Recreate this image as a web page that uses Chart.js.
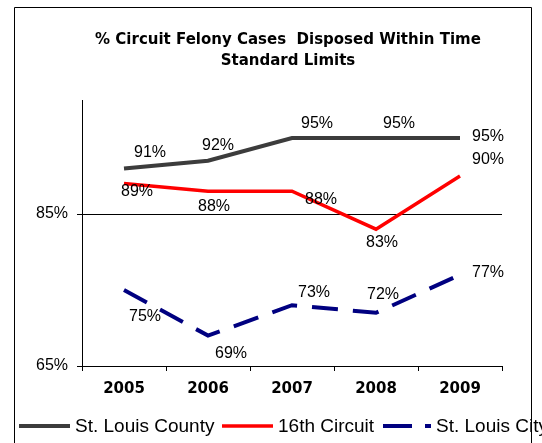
<!DOCTYPE html>
<html lang="en">
<head>
  <meta charset="UTF-8">
  <title>% Circuit Felony Cases Disposed Within Time Standard Limits</title>
  <script src="https://cdn.jsdelivr.net/npm/chart.js"></script>
  <style>
    body {
      margin: 0;
      padding: 0;
      background: #fff;
    }
    .wrap {
      position: relative;
      width: 542px;
      height: 443px;
    }
  </style>
</head>
<body>
  <div class="wrap">
    <canvas id="felonyChart" width="542" height="443"></canvas>
  </div>

  <script>
    // data
    const years = ['2005', '2006', '2007', '2008', '2009'];
    const countyValues = [91, 92, 95, 95, 95];
    const circuitValues = [89, 88, 88, 83, 90];
    const cityValues = [75, 69, 73, 72, 77];
    const yTicks = [65, 85];
    const seriesNames = ['St. Louis County', '16th Circuit', 'St. Louis City'];
    const titleLines = ['% Circuit Felony Cases  Disposed Within Time', 'Standard Limits'];

    const labelFont = '16px "Liberation Sans", Arial, sans-serif';

    // frame, title and legend drawn by hand (legend runs past the frame like the original)
    const decorPlugin = {
      id: 'decor',
      beforeDraw(chart) {
        const c = chart.ctx;
        c.save();
        c.fillStyle = '#fff';
        c.fillRect(0, 0, chart.width, chart.height);
        c.strokeStyle = '#000';
        c.lineWidth = 1;
        c.beginPath();
        c.moveTo(14.5, 443);
        c.lineTo(14.5, 7.5);
        c.lineTo(531.5, 7.5);
        c.lineTo(531.5, 443);
        c.stroke();
        c.restore();
      },
      afterDraw(chart) {
        const c = chart.ctx;
        c.save();
        // title
        c.fillStyle = '#000';
        c.font = 'bold 15px "DejaVu Sans", sans-serif';
        c.textAlign = 'center';
        c.textBaseline = 'middle';
        titleLines.forEach((t, i) => c.fillText(t, 288, 40 + i * 21));

        // legend
        const y = 426;
        const items = [
          {x: 19, w: 51, ds: chart.data.datasets[0]},
          {x: 222, w: 51, ds: chart.data.datasets[1]},
          {x: 383, w: 48, ds: chart.data.datasets[2]}
        ];
        c.font = '19px "Liberation Sans", Arial, sans-serif';
        c.textAlign = 'left';
        items.forEach((it, i) => {
          c.strokeStyle = it.ds.borderColor;
          c.lineWidth = it.ds.borderWidth;
          c.setLineDash(i === 2 ? [29, 13] : []);
          c.beginPath();
          c.moveTo(it.x, y);
          c.lineTo(it.x + it.w, y);
          c.stroke();
          c.setLineDash([]);
          c.fillStyle = '#000';
          c.fillText(seriesNames[i], it.x + it.w + 5, y + 1);
        });
        c.restore();
      }
    };

    // value labels next to each point
    const valueLabels = {
      id: 'valueLabels',
      afterDatasetsDraw(chart) {
        const c = chart.ctx;
        c.save();
        c.font = labelFont;
        c.fillStyle = '#000';
        c.textAlign = 'center';
        c.textBaseline = 'middle';
        chart.data.datasets.forEach((ds, i) => {
          const meta = chart.getDatasetMeta(i);
          meta.data.forEach((pt, j) => {
            const off = ds.labelOffsets[j];
            c.fillText(ds.data[j] + '%', pt.x + off[0], pt.y + off[1]);
          });
        });
        c.restore();
      }
    };

    const ctx = document.getElementById('felonyChart').getContext('2d');
    new Chart(ctx, {
      type: 'line',
      data: {
        labels: years,
        datasets: [
          {
            label: seriesNames[0],
            data: countyValues,
            borderColor: '#3c3c3c',
            borderWidth: 4,
            pointRadius: 0,
            tension: 0,
            labelOffsets: [[26, -16], [10, -15], [25, -14], [23, -14], [28, -1]]
          },
          {
            label: seriesNames[1],
            data: circuitValues,
            borderColor: '#ff0000',
            borderWidth: 3.5,
            pointRadius: 0,
            tension: 0,
            labelOffsets: [[13, 8], [6, 15], [29, 8], [6, 13], [28, -16]]
          },
          {
            label: seriesNames[2],
            data: cityValues,
            borderColor: '#000080',
            borderWidth: 4,
            borderDash: [26, 15],
            pointRadius: 0,
            tension: 0,
            labelOffsets: [[21, 27], [23, 18], [22, -13], [7, -18], [28, -2]]
          }
        ]
      },
      options: {
        responsive: false,
        animation: false,
        layout: {
          padding: {left: 0, right: 40, top: 100, bottom: 47}
        },
        plugins: {
          legend: {display: false},
          title: {display: false},
          tooltip: {enabled: false}
        },
        scales: {
          x: {
            offset: true,
            grid: {
              offset: true,
              drawOnChartArea: false,
              drawTicks: true,
              tickLength: 5,
              color: '#000'
            },
            border: {display: true, color: '#000', width: 1},
            ticks: {
              color: '#000',
              font: {family: '"DejaVu Sans", sans-serif', size: 15, weight: 'bold'},
              padding: 9,
              maxRotation: 0
            },
            afterFit(scale) {
              scale.height = 30;
            }
          },
          y: {
            min: 65,
            max: 100,
            afterBuildTicks(scale) {
              scale.ticks = yTicks.map(v => ({value: v}));
            },
            grid: {
              color: '#000',
              lineWidth: 1,
              tickLength: 5
            },
            border: {display: true, color: '#000', width: 1},
            ticks: {
              color: '#000',
              font: {family: '"Liberation Sans", Arial, sans-serif', size: 16},
              padding: 9,
              callback: v => v + '%'
            },
            afterFit(scale) {
              scale.width = 82;
            }
          }
        }
      },
      plugins: [decorPlugin, valueLabels]
    });
  </script>
</body>
</html>
